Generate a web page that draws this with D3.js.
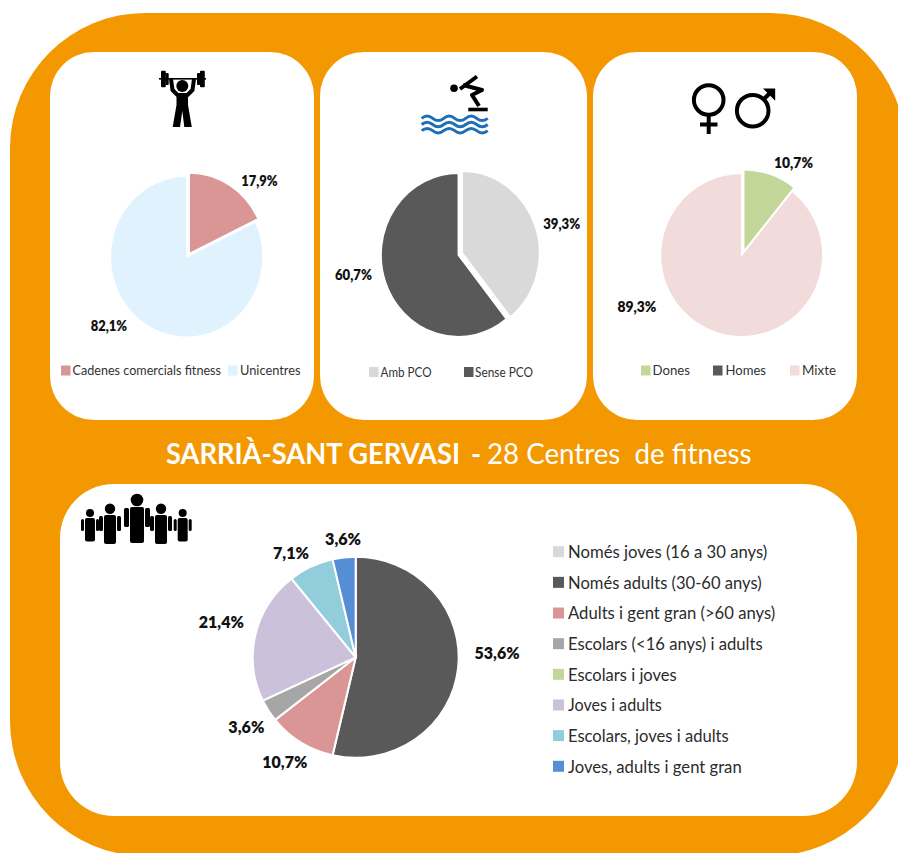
<!DOCTYPE html>
<html><head><meta charset="utf-8">
<script src="https://cdn.jsdelivr.net/npm/d3@7"></script>
<style>html,body{margin:0;padding:0;background:#fff}svg{display:block}text{font-family:Lato,"Open Sans",sans-serif}</style>
</head><body><div id="c"></div>
<script>
// ---------- data ----------
const fitnessLabels = ["Cadenes comercials fitness", "Unicentres"];
const fitnessValues = [17.9, 82.1];
const poolLabels = ["Amb PCO", "Sense PCO"];
const poolValues = [39.3, 60.7];
const genderLabels = ["Dones", "Homes", "Mixte"];
const genderValues = [10.7, 0, 89.3];
const ageLabels = ["Només joves (16 a 30 anys)", "Només adults (30-60 anys)", "Adults i gent gran (>60 anys)",
  "Escolars (<16 anys) i adults", "Escolars i joves", "Joves i adults", "Escolars, joves i adults", "Joves, adults i gent gran"];
const ageValues = [0, 53.6, 10.7, 3.6, 0, 21.4, 7.1, 3.6];
const titleBold = "SARRIÀ-SANT GERVASI";
const titleDash = "-";
const titleRest = "28 Centres  de fitness";

// ---------- palette ----------
const ORANGE = "#F39800";
const colFitness = ["#DA9694", "#E0F2FE"];
const colPool = ["#D9D9D9", "#595959"];
const colGender = ["#C4D79B", "#595959", "#F2DCDB"];
const colAge = ["#D9D9D9", "#595959", "#DA9694", "#A6A6A6", "#C4D79B", "#CCC1DA", "#92CDDC", "#558ED5"];

const svg = d3.select("#c").append("svg").attr("width", 898).attr("height", 853);
svg.append("rect").attr("width", 898).attr("height", 853).attr("fill", "#fff");
svg.append("rect").attr("x", 10).attr("y", 13).attr("width", 895).attr("height", 843).attr("rx", 135).attr("ry", 135).attr("fill", ORANGE);
[[50, 52, 264, 368, 44], [320, 52, 267, 368, 44], [593, 52, 264, 368, 44], [60, 484, 797, 332, 54]].forEach(p =>
  svg.append("rect").attr("x", p[0]).attr("y", p[1]).attr("width", p[2]).attr("height", p[3]).attr("rx", p[4]).attr("ry", p[4]).attr("fill", "#fff"));

// ---------- pies ----------
const fmt = v => d3.format(".1f")(v).replace(".", ",") + "%";
function drawPie(o) {
  const R = 100;
  const pie = d3.pie().sort(null).value(d => d)(o.values);
  const arc = d3.arc().innerRadius(0).outerRadius(R);
  const edge = d3.arc().innerRadius(R).outerRadius(R);
  const sx = o.rx / R, sy = o.ry / R;
  const color = d3.scaleOrdinal().domain(d3.range(o.values.length)).range(o.colors);
  const g = svg.append("g");
  pie.filter(d => d.value > 0).forEach(d => {
    const off = o.explode && o.explode[d.index] || [0, 0];
    g.append("path")
      .attr("d", arc(d))
      .attr("transform", `translate(${o.cx + off[0]},${o.cy + off[1]}) scale(${sx},${sy})`)
      .attr("fill", color(d.index))
      .attr("stroke", "#fff").attr("stroke-width", o.stroke / Math.min(sx, sy));
  });
  pie.filter(d => d.value > 0).forEach(d => {
    const c = edge.centroid(d);
    const off = o.explode && o.explode[d.index] || [0, 0];
    const n = o.nudge[d.index];
    const label = fmt(d.value);
    svg.append("text")
      .attr("x", o.cx + off[0] + c[0] * sx + n[0])
      .attr("y", o.cy + off[1] + c[1] * sy + n[1])
      .attr("dy", "0.36em")
      .attr("text-anchor", "middle")
      .attr("font-weight", 800).attr("font-size", o.fs).attr("fill", "#111")
      .attr("textLength", o.charW * label.length).attr("lengthAdjust", "spacingAndGlyphs")
      .text(label);
  });
}
drawPie({values: fitnessValues, colors: colFitness, cx: 186.7, cy: 256.7, rx: 76.4, ry: 80.7, stroke: 1.5,
  explode: {0: [2.5, -3]}, nudge: {0: [29.5, -5], 1: [-37, 1]}, fs: 14.5, charW: 7.3});
drawPie({values: poolValues, colors: colPool, cx: 458.3, cy: 255, rx: 77.2, ry: 81.7, stroke: 1.5,
  explode: {0: [4, -2]}, nudge: {0: [26.5, -2], 1: [-32, -7]}, fs: 14.5, charW: 7.4});
drawPie({values: genderValues, colors: colGender, cx: 741.7, cy: 255, rx: 81.2, ry: 81.7, stroke: 1.5,
  explode: {0: [2, -3.5]}, nudge: {0: [23, -12], 2: [-78, -25.5]}, fs: 14.5, charW: 7.8});
drawPie({values: ageValues, colors: colAge, cx: 355.7, cy: 657.3, rx: 103, ry: 100.5, stroke: 2,
  nudge: {1: [39, -15], 2: [-16, 19.5], 3: [-22, 17], 5: [-34, -13], 6: [-20, -14], 7: [-1, -18]}, fs: 16, charW: 9});

// ---------- top legends ----------
function topLegend(labels, colors, y, sw, tx, tw) {
  labels.forEach((t, i) => {
    svg.append("rect").attr("x", sw[i]).attr("y", y - 5).attr("width", 9.5).attr("height", 10).attr("fill", colors[i]);
    svg.append("text").attr("x", tx[i]).attr("y", y).attr("dy", "0.36em")
      .attr("font-size", 13).attr("fill", "#333")
      .attr("textLength", tw[i]).attr("lengthAdjust", "spacingAndGlyphs").text(t);
  });
}
topLegend(fitnessLabels, colFitness, 370.5, [61, 228], [72.5, 240], [148.5, 60.5]);
topLegend(poolLabels, colPool, 372, [369, 464], [380.5, 475], [51, 58]);
topLegend(genderLabels, colGender, 370.5, [641, 713, 790], [652.5, 725.5, 802], [37.5, 40.5, 34]);

// ---------- bottom legend ----------
const ageWidths = [199.3, 193.7, 207.3, 194.7, 108.7, 93.7, 160.7, 173.7];
const yLeg = d3.scalePoint().domain(d3.range(ageLabels.length)).range([551.7, 766.3]);
ageLabels.forEach((t, i) => {
  svg.append("rect").attr("x", 553).attr("y", yLeg(i) - 5.5).attr("width", 11).attr("height", 11).attr("fill", colAge[i]);
  svg.append("text").attr("x", 568).attr("y", yLeg(i)).attr("dy", "0.36em")
    .attr("font-size", 17.5).attr("fill", "#2b2b2b")
    .attr("textLength", ageWidths[i]).attr("lengthAdjust", "spacingAndGlyphs").text(t);
});

// ---------- title ----------
const tt = (t, x, w, weight) => svg.append("text").attr("x", x).attr("y", 464).attr("font-size", 28)
  .attr("font-weight", weight).attr("fill", "#fff").attr("textLength", w).attr("lengthAdjust", "spacingAndGlyphs")
  .style("white-space", "pre").text(t);
tt(titleBold, 166, 294, 700);
tt(titleDash, 471, 10, 700);
tt(titleRest, 487, 264.5, 400);

// ---------- icons ----------
const ic = svg.append("g");
// weight lifter
ic.append("rect").attr("x", 159).attr("y", 78).attr("width", 47).attr("height", 1.6).attr("fill", "#000");
[[161, 4.8, 70.7, 16.6], [165.5, 3.2, 73, 12], [200, 4.8, 70.7, 16.6], [197, 3.2, 73, 12]].forEach(r =>
  ic.append("rect").attr("x", r[0]).attr("y", r[2]).attr("width", r[1]).attr("height", r[3]).attr("rx", 1).attr("fill", "#000"));
ic.append("circle").attr("cx", 182.3).attr("cy", 86).attr("r", 6).attr("fill", "#000");
ic.append("path").attr("d", "M171 79 L172.5 90 L178 95.5 M194 79 L192.5 90 L187 95.5").attr("fill", "none").attr("stroke", "#000").attr("stroke-width", 4);
ic.append("path").attr("d", "M176.5 93 L188 93 L188 105 L191.8 127 L184.3 127 L182.3 111 L180 127 L172.7 127 L176.5 105 Z").attr("fill", "#000");
// diver
ic.append("circle").attr("cx", 454).attr("cy", 88.3).attr("r", 3.8).attr("fill", "#000");
ic.append("path").attr("d", "M460 89 L477 76.5 M463 85 L482 90 L472 95 L479 106").attr("fill", "none").attr("stroke", "#000").attr("stroke-width", 4).attr("stroke-linejoin", "round");
ic.append("rect").attr("x", 468.3).attr("y", 107.7).attr("width", 19.4).attr("height", 3.6).attr("fill", "#000");
[118.3, 124.5, 130.7].forEach(y =>
  ic.append("path").attr("d", `M421.7 ${y} q5.5 -4.5 11 0 t11 0 t11 0 t11 0 t11 0 t11 0`).attr("fill", "none").attr("stroke", "#1F6FB5").attr("stroke-width", 3));
// gender
const blk = {fill: "none", stroke: "#000", "stroke-width": 4};
const apply = (s, a) => { Object.entries(a).forEach(([k, v]) => s.attr(k, v)); return s; };
apply(ic.append("circle").attr("cx", 708.7).attr("cy", 100).attr("r", 14.8), blk);
apply(ic.append("path").attr("d", "M708.7 115 L708.7 134 M700 124.5 L717.5 124.5"), blk);
apply(ic.append("circle").attr("cx", 752.7).attr("cy", 110.7).attr("r", 15.8), blk);
apply(ic.append("path").attr("d", "M763.5 99.5 L772 91"), blk);
ic.append("path").attr("d", "M763 88.5 L775.2 88.5 L775.2 100.7 Z").attr("fill", "#000");
// people
function person(cx, hy, hr, top, bot, bw, ao, aw, at, ab) {
  ic.append("circle").attr("cx", cx).attr("cy", hy).attr("r", hr).attr("fill", "#000");
  ic.append("rect").attr("x", cx - bw).attr("y", top).attr("width", 2 * bw).attr("height", bot - top).attr("rx", 2).attr("fill", "#000");
  [cx - ao, cx + ao - aw].forEach(x =>
    ic.append("rect").attr("x", x).attr("y", at).attr("width", aw).attr("height", ab - at).attr("rx", 1.5).attr("fill", "#000"));
}
person(90, 513, 4, 518, 541.5, 5, 9, 3, 519, 531);
person(110, 508.7, 5.2, 515, 544, 6, 11, 4, 516, 531);
person(137, 500, 6.3, 507, 543, 7, 13, 5, 508, 527);
person(161, 508.7, 5.2, 515, 544, 6, 11, 4, 516, 531);
person(182.7, 513, 4, 518, 541.5, 5, 9, 3, 519, 531);
</script></body></html>
